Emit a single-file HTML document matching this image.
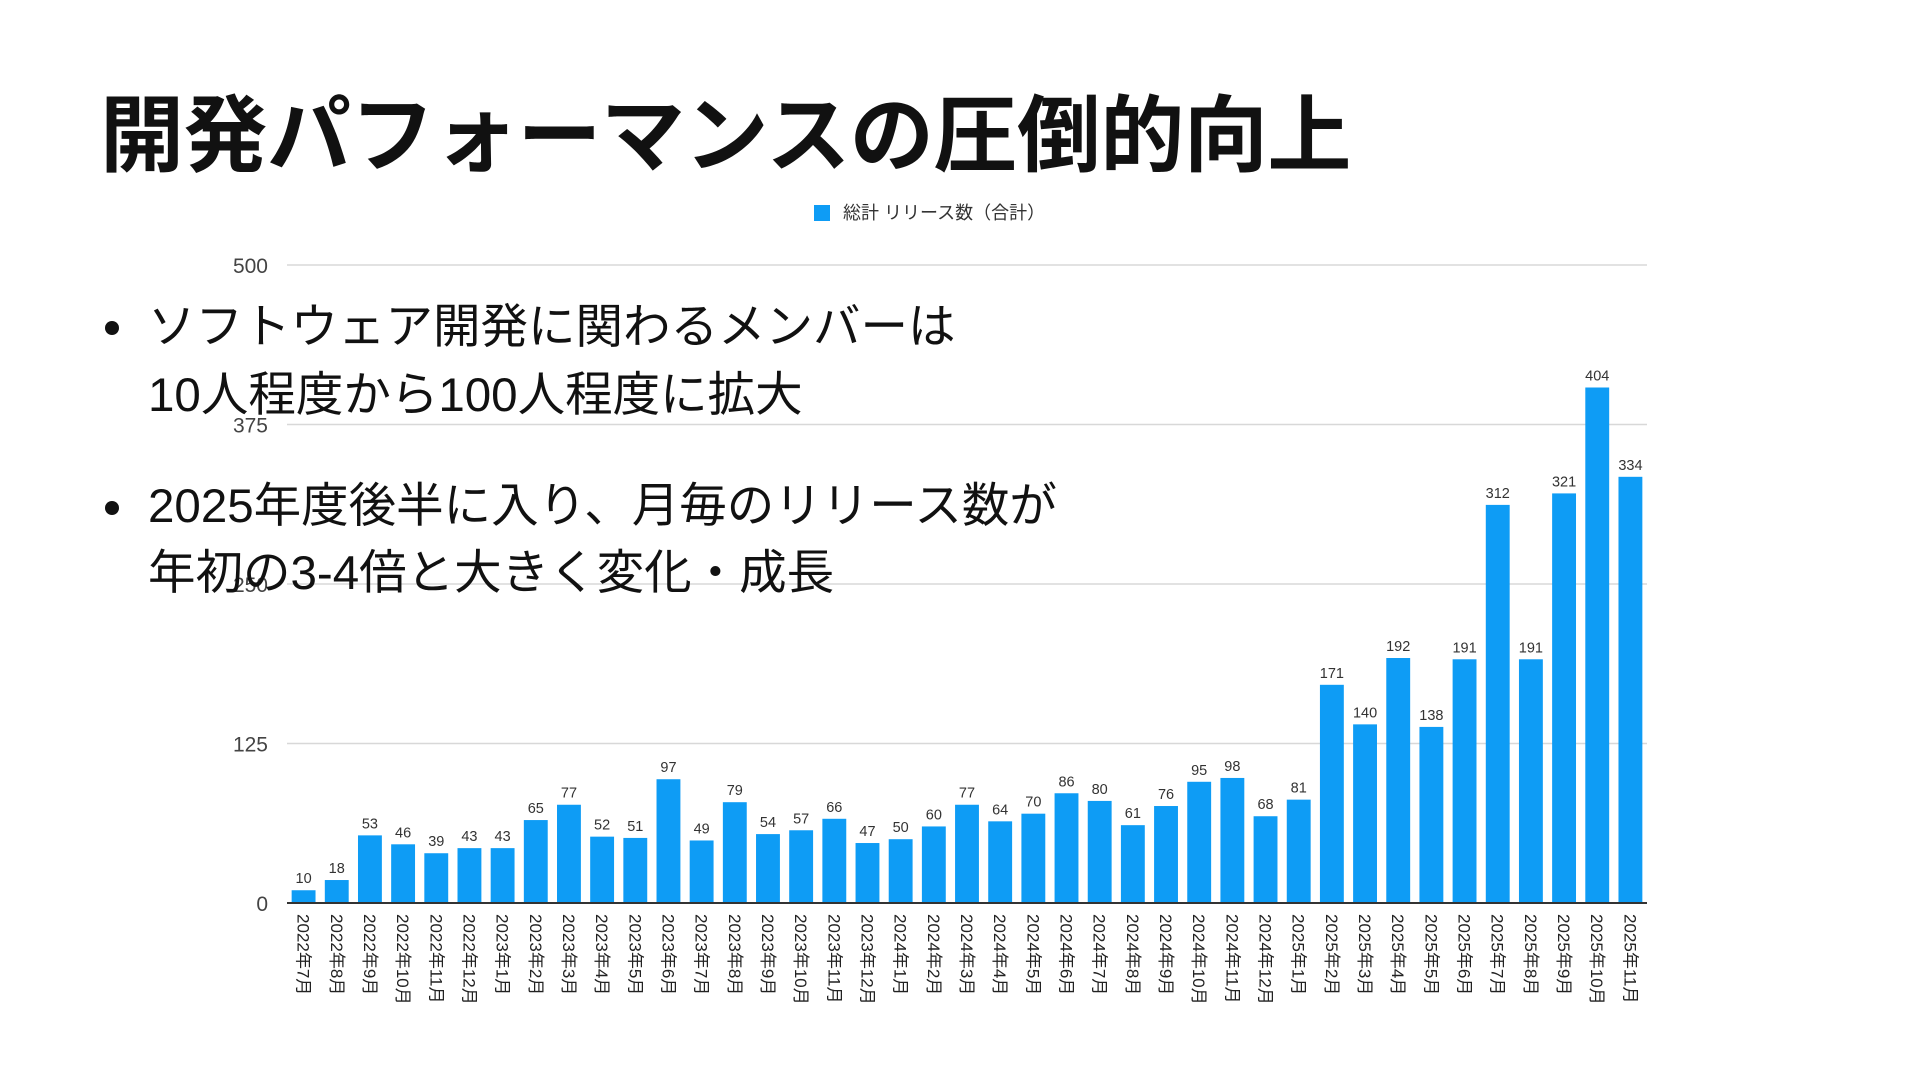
<!DOCTYPE html>
<html><head><meta charset="utf-8"><style>
body{margin:0;width:1920px;height:1080px;background:#fff;overflow:hidden;position:relative;font-family:"Liberation Sans","Noto Sans CJK JP",sans-serif}
#title{position:absolute;left:100px;top:94px;font-size:84px;font-weight:bold;color:#111;white-space:nowrap;letter-spacing:-0.5px;line-height:1}
.bl{position:absolute;left:148px;font-size:47.5px;color:#111;white-space:nowrap;line-height:1}
.dot{position:absolute;left:105px;width:14px;height:14px;border-radius:50%;background:#111}
svg{position:absolute;left:0;top:0}
</style></head><body>
<svg id="chart" width="1920" height="1080"></svg>
<div id="title">開発パフォーマンスの圧倒的向上</div>
<div class="dot" style="top:321px"></div>
<div class="bl" style="top:304px">ソフトウェア開発に関わるメンバーは</div>
<div class="bl" style="top:372px">10人程度から100人程度に拡大</div>
<div class="dot" style="top:501px"></div>
<div class="bl" style="top:483px">2025年度後半に入り、月毎のリリース数が</div>
<div class="bl" style="top:550px">年初の3-4倍と大きく変化・成長</div>
<script>
const categories=["2022年7月","2022年8月","2022年9月","2022年10月","2022年11月","2022年12月","2023年1月","2023年2月","2023年3月","2023年4月","2023年5月","2023年6月","2023年7月","2023年8月","2023年9月","2023年10月","2023年11月","2023年12月","2024年1月","2024年2月","2024年3月","2024年4月","2024年5月","2024年6月","2024年7月","2024年8月","2024年9月","2024年10月","2024年11月","2024年12月","2025年1月","2025年2月","2025年3月","2025年4月","2025年5月","2025年6月","2025年7月","2025年8月","2025年9月","2025年10月","2025年11月"];
const releases=[10,18,53,46,39,43,43,65,77,52,51,97,49,79,54,57,66,47,50,60,77,64,70,86,80,61,76,95,98,68,81,171,140,192,138,191,312,191,321,404,334];
const yTicks=[0,125,250,375,500];
const seriesName="総計 リリース数（合計）";
const svg=document.getElementById('chart');const NS="http://www.w3.org/2000/svg";
const X0=287,X1=1647,Y0=903,Y1=265,YMAX=500;
const y=v=>Y0-(v/YMAX)*(Y0-Y1);
const step=(X1-X0)/categories.length;
const x=i=>X0+step*i+step/2;
function mk(t,a,txt){const e=document.createElementNS(NS,t);for(const k in a)e.setAttribute(k,a[k]);if(txt!=null)e.textContent=txt;svg.appendChild(e);return e;}
yTicks.forEach(t=>{
 if(t>0){const g=mk('line',{x1:X0,x2:X1,y1:y(t),y2:y(t),stroke:'#d8d8d8','stroke-width':1.5});
 
 }
 const l=mk('text',{x:268,y:y(t)+8,'text-anchor':'end','font-size':21,fill:'#444'},t);
 
 
});
const bw=step*0.72;
releases.forEach((v,i)=>{
 const r=mk('rect',{x:x(i)-bw/2,y:y(v),width:bw,height:Y0-y(v),fill:'#0e9cf5'});
 
 
 const vl=mk('text',{x:x(i),y:y(v)-7,'text-anchor':'middle','font-size':14.5,fill:'#333'},v);
 
 
 const cl=mk('text',{x:0,y:0,'font-size':17,fill:'#222',transform:`translate(${x(i)-6},914) rotate(90)`},categories[i]);
 
 
});
const ax=mk('line',{x1:X0,x2:X1,y1:Y0,y2:Y0,stroke:'#333','stroke-width':2});


const ls=mk('rect',{x:814,y:205,width:16,height:16,fill:'#0e9cf5'});


const lt=mk('text',{x:843,y:219,'font-size':18,fill:'#333'},seriesName);


</script>
</body></html>
